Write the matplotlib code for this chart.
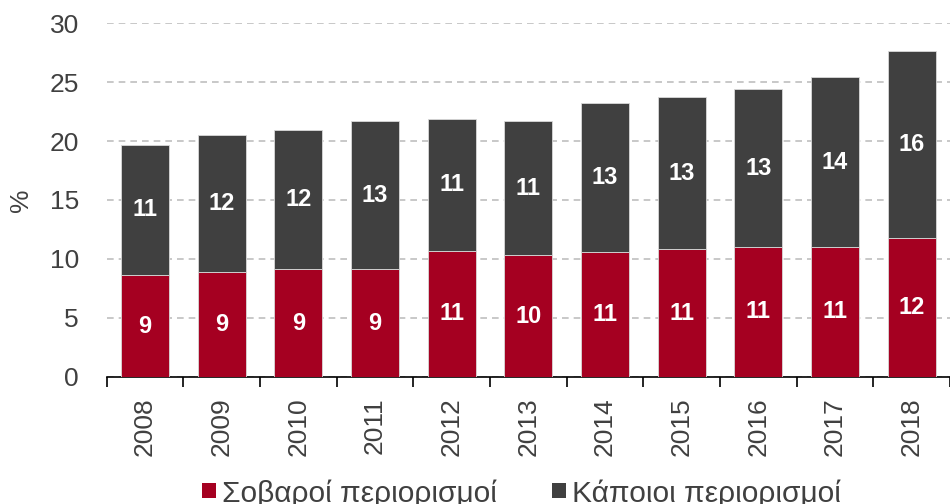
import numpy as np
import matplotlib.pyplot as plt
from matplotlib.patches import Rectangle

plt.rcParams['font.family'] = ['Liberation Sans', 'DejaVu Sans']

years = ['2008', '2009', '2010', '2011', '2012', '2013', '2014', '2015', '2016', '2017', '2018']
serious = [8.6, 8.9, 9.1, 9.1, 10.7, 10.3, 10.6, 10.8, 11.0, 11.0, 11.8]
some = [11.1, 11.6, 11.8, 12.6, 11.2, 11.4, 12.6, 12.9, 13.4, 14.4, 15.8]
series_names = ['Σοβαροί περιορισμοί', 'Κάποιοι περιορισμοί']

red = '#A50021'
dark = '#404040'
txt = '#404040'

W, H = 950, 504
fig = plt.figure(figsize=(W / 100, H / 100), dpi=100)
ax = fig.add_axes([0.1123, 0.2526, 0.8877, 0.7014])

x = np.arange(len(years))
w = 0.625
ax.bar(x, serious, w, color=red, edgecolor='#d9d9d9', linewidth=0.6, zorder=3)
ax.bar(x, some, w, bottom=serious, color=dark, edgecolor='#d9d9d9', linewidth=0.6, zorder=3)

# rounded values written inside each segment
for i in range(len(years)):
    ax.text(x[i], serious[i] / 2, f'{serious[i]:.0f}', ha='center', va='center',
            color='white', fontsize=17, fontweight='bold', zorder=4)
    ax.text(x[i], serious[i] + some[i] / 2, f'{some[i]:.0f}', ha='center', va='center',
            color='white', fontsize=17, fontweight='bold', zorder=4)

ax.set_ylim(0, 30)
ax.set_xlim(-0.5, 10.5)
ax.set_yticks(np.arange(0, 31, 5))
ax.yaxis.grid(True, color='#bfbfbf', linestyle=(0, (4, 3)), linewidth=1.2, zorder=0)
ax.set_axisbelow(True)

for s in ['top', 'right', 'left']:
    ax.spines[s].set_visible(False)
ax.spines['bottom'].set_color('black')
ax.spines['bottom'].set_linewidth(1.2)

ax.set_xticks(x)
ax.set_xticklabels(years, rotation=90, fontsize=19, color=txt)
ax.set_xticks(np.arange(-0.5, 11, 1), minor=True)
ax.tick_params(axis='x', which='major', length=0, pad=15)
ax.tick_params(axis='x', which='minor', length=7, width=1.2, color='black')
ax.tick_params(axis='y', length=0, labelsize=19, labelcolor=txt, pad=20)
ax.set_ylabel('%', fontsize=19, color=txt, labelpad=12)

# legend row at the bottom: colour square + series name
key_x = [202, 552]
for kx, col, name in zip(key_x, [red, dark], series_names):
    fig.add_artist(Rectangle((kx / W, 6 / H), 14 / W, 15 / H, transform=fig.transFigure,
                             facecolor=col, edgecolor='none'))
    fig.text((kx + 20) / W, 2 / H, name, fontsize=21.5, color=txt, va='baseline', ha='left')

fig.savefig('out.png', dpi=100)
